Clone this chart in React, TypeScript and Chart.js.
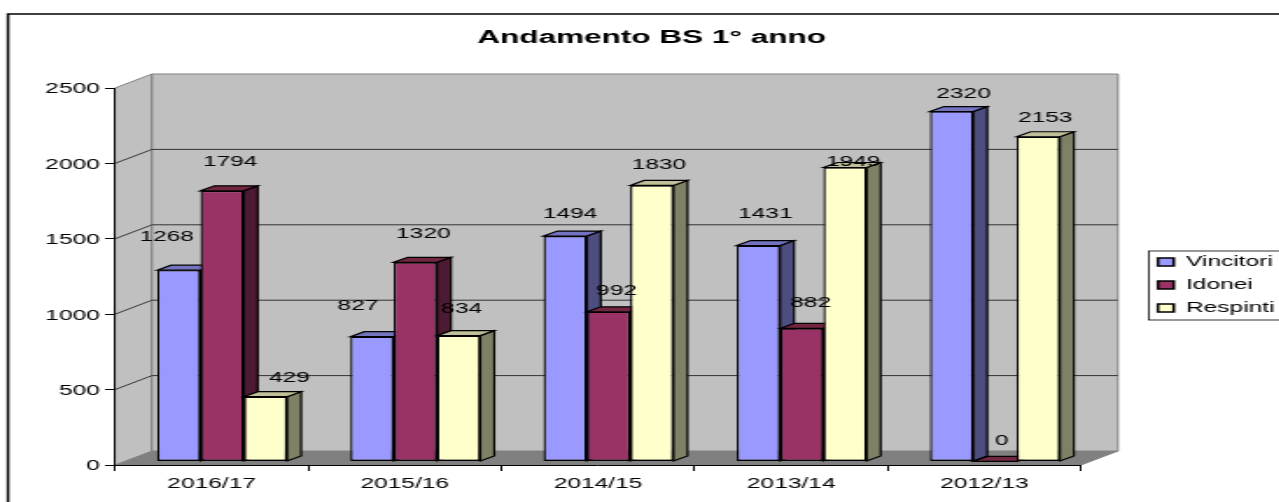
import React, { useEffect, useRef } from "react";
import { Chart, registerables } from "chart.js";

Chart.register(...registerables);

const categories = ["2016/17", "2015/16", "2014/15", "2013/14", "2012/13"];
const vincitori = [1268, 827, 1494, 1431, 2320];
const idonei = [1794, 1320, 992, 882, 0];
const respinti = [429, 834, 1830, 1949, 2153];

// The reference is horizontally stretched: everything is drawn narrow, then widened.
const S = 1.75;
const FONT = '"Liberation Sans", Arial, sans-serif';
const WALL = "#c0c0c0";
const EDGE = "#808080";

const fronts = ["#9999FF", "#993366", "#FFFFCC"];
const sides = ["#4D4D80", "#4D1A33", "#808066"];
const tops = ["#7373BF", "#732640", "#BFBF99"];

// Data-label nudges from the top centre of each bar, in picture pixels.
const labelDx = [
  [-12, -14, 5, 7, 12],
  [8, 8, 8, 9, 7],
  [24, 3, 7, 8, 7],
];
const labelDy = [
  [-33, -31, -22, -31, -17],
  [-29, -28, -21, -25, -20],
  [-19, -26, -20, -5, -19],
];

const WALL_DX = 37 / S;
const WALL_DY = -14;
const BAR_DX = 10.5 / S;
const BAR_DY = -3.6;
const DEPTH_X = 14 / S;
const DEPTH_Y = -5;

const poly = (ctx: any, pts: number[][], fill: string, stroke: string, lw = 1) => {
  ctx.beginPath();
  pts.forEach((p, i) => (i ? ctx.lineTo(p[0], p[1]) : ctx.moveTo(p[0], p[1])));
  ctx.closePath();
  ctx.fillStyle = fill;
  ctx.fill();
  ctx.strokeStyle = stroke;
  ctx.lineWidth = lw;
  ctx.stroke();
};

const scene = {
  id: "scene",
  afterLayout(chart: any) {
    const t = chart.titleBlock;
    t.left = 0;
    t.right = (2 * 651.5) / S;
    const l = chart.legend;
    l.left = 652.7;
    l.right = 740;
    l.top = 246;
    l.bottom = 330;
  },
  beforeDraw(chart: any) {
    const { ctx, chartArea: a, scales } = chart;
    const y = scales.y;
    ctx.save();
    ctx.fillStyle = "#ffffff";
    ctx.fillRect(0, 0, chart.width, chart.height);
    // outer frame
    ctx.strokeStyle = "#000000";
    ctx.lineWidth = 1.5;
    ctx.strokeRect(8 / S, 14, 800, 600);
    // legend frame
    ctx.lineWidth = 0.8;
    ctx.strokeRect(1149 / S, 251, 200, 69);

    const L = a.left, R = a.right, T = a.top, B = a.bottom;
    // floor, side wall, back wall
    poly(ctx, [[L, B], [L + WALL_DX, B + WALL_DY], [R + WALL_DX, B + WALL_DY], [R, B]], EDGE, EDGE);
    poly(ctx, [[L, T], [L + WALL_DX, T + WALL_DY], [L + WALL_DX, B + WALL_DY], [L, B]], WALL, EDGE);
    poly(ctx, [[L + WALL_DX, T + WALL_DY], [R + WALL_DX, T + WALL_DY], [R + WALL_DX, B + WALL_DY], [L + WALL_DX, B + WALL_DY]], WALL, EDGE);
    // gridlines follow the value scale over both walls
    y.ticks.forEach((tk: any) => {
      if (tk.value === 0 || tk.value === y.max) return;
      const py = y.getPixelForValue(tk.value);
      ctx.beginPath();
      ctx.moveTo(L, py);
      ctx.lineTo(L + WALL_DX, py + WALL_DY);
      ctx.lineTo(R + WALL_DX, py + WALL_DY);
      ctx.strokeStyle = "#333333";
      ctx.lineWidth = 1;
      ctx.stroke();
    });
    ctx.restore();
  },
  beforeDatasetsDraw(chart: any) {
    const { ctx } = chart;
    ctx.save();
    ctx.translate(BAR_DX, BAR_DY);
    // Left to right, so every bar covers its left neighbour's side face.
    [0, 1, 2].forEach((i) => {
      const meta = chart.getDatasetMeta(i);
      meta.data.forEach((el: any) => {
        const { x, y, base, width } = el.getProps(["x", "y", "base", "width"], true);
        const l = x - width / 2;
        const r = x + width / 2;
        poly(ctx, [[r, y], [r + DEPTH_X, y + DEPTH_Y], [r + DEPTH_X, base + DEPTH_Y], [r, base]], sides[i], "#000000", 1.2);
        poly(ctx, [[l, y], [l + DEPTH_X, y + DEPTH_Y], [r + DEPTH_X, y + DEPTH_Y], [r, y]], tops[i], "#000000", 1.2);
      });
      meta.controller.draw();
    });
    // data labels
    ctx.fillStyle = "#000000";
    ctx.font = `14px ${FONT}`;
    ctx.textAlign = "center";
    ctx.textBaseline = "middle";
    [0, 1, 2].forEach((i) => {
      const meta = chart.getDatasetMeta(i);
      const values = chart.data.datasets[i].data;
      meta.data.forEach((el: any, j: number) => {
        const { x, y } = el.getProps(["x", "y"], true);
        ctx.fillText(String(values[j]), x + labelDx[i][j] / S, y + labelDy[i][j]);
      });
    });
    ctx.restore();
    return false;
  },
};

export default function App() {
  const ref = useRef<HTMLCanvasElement>(null);
  useEffect(() => {
    const chart = new Chart(ref.current as HTMLCanvasElement, {
      type: "bar",
      plugins: [scene],
      data: {
        labels: categories,
        datasets: [
          { label: "Vincitori", data: vincitori, backgroundColor: fronts[0] },
          { label: "Idonei", data: idonei, backgroundColor: fronts[1] },
          { label: "Respinti", data: respinti, backgroundColor: fronts[2] },
        ].map((d) => ({
          ...d,
          borderColor: "#000000",
          borderWidth: 1.3,
          borderSkipped: false,
          categoryPercentage: 130 / 193.2,
          barPercentage: 1,
        })),
      },
      options: {
        responsive: false,
        animation: false,
        devicePixelRatio: 1,
        events: [],
        layout: { autoPadding: false, padding: { left: 0, right: 731 - 1081 / S, top: 0, bottom: 0 } },
        scales: {
          x: {
            grid: { drawOnChartArea: false, color: "#000000", tickLength: 6, offset: true },
            border: { color: "#000000", width: 1 },
            ticks: { color: "#000000", font: { family: FONT, size: 14 }, padding: 5, maxRotation: 0 },
            afterFit: (s: any) => {
              s.height = 37;
            },
          },
          y: {
            min: 0,
            max: 2500,
            grid: { drawOnChartArea: false, color: "#000000", tickLength: 5.7 },
            border: { color: "#000000", width: 1 },
            ticks: {
              stepSize: 500,
              color: "#000000",
              font: { family: FONT, size: 14 },
              padding: 3,
              labelOffset: 1.5,
              callback: (v: any) => String(v),
            },
            afterFit: (s: any) => {
              s.width = 115 / S;
            },
          },
        },
        plugins: {
          tooltip: { enabled: false },
          title: {
            display: true,
            text: "Andamento BS 1° anno",
            color: "#000000",
            font: { family: FONT, size: 18, weight: "bold", lineHeight: 1.2 },
            padding: { top: 27, bottom: 39.4 },
          },
          legend: {
            position: "chartArea",
            align: "start",
            labels: {
              color: "#000000",
              boxWidth: 9,
              boxHeight: 8,
              padding: 9,
              font: { family: FONT, size: 14 },
              generateLabels: (chart: any) =>
                Chart.defaults.plugins.legend.labels.generateLabels(chart).map((it: any) => ({ ...it, lineWidth: 1.6 })),
            },
          },
        },
      },
    } as any);
    return () => chart.destroy();
  }, []);

  return (
    <div style={{ position: "absolute", left: 0, top: 0, width: 1279, height: 502, overflow: "hidden", background: "#fff" }}>
      <div style={{ width: 731, height: 502, transform: `scaleX(${S})`, transformOrigin: "0 0" }}>
        <canvas ref={ref} width={731} height={502} />
      </div>
    </div>
  );
}
